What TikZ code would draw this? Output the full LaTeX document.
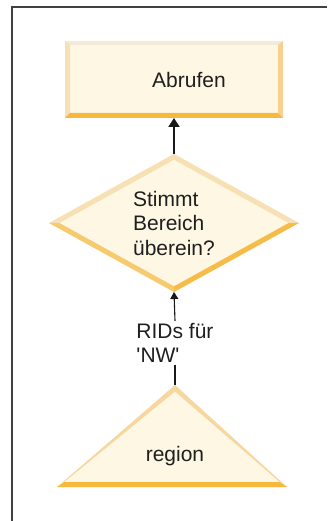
\documentclass[tikz,border=0pt]{standalone}
\usepackage{fontspec}
\setmainfont{Liberation Sans}
\usetikzlibrary{arrows.meta,positioning,shapes.geometric,calc}
\definecolor{boxfill}{HTML}{FDF7E4}
\definecolor{rimlight}{HTML}{F6E0B4}
\definecolor{rimtop}{HTML}{F4EAD8}
\definecolor{rimside}{HTML}{F6D192}
\definecolor{rimmid}{HTML}{F6CA6E}
\definecolor{rimdark}{HTML}{F6B93E}
\definecolor{framegray}{HTML}{404040}
\begin{document}
\begin{tikzpicture}[
      x=1pt, y=-1pt,
      every node/.append style={font=\fontsize{21}{24.5}\selectfont, text=black!88},
      box/.style={rectangle, fill=boxfill, minimum width=218pt, minimum height=77pt,
        inner sep=0pt, outer sep=0pt},
      decide/.style={diamond, aspect=1.8, fill=boxfill, minimum width=250pt,
        minimum height=138pt, inner sep=0pt, outer sep=0pt, align=left},
      tag/.style={align=left, inner sep=2pt},
      flow/.style={-{Triangle[width=11pt, length=9pt]}, line width=2pt, black!90},
      feed/.style={-{Triangle[width=8pt, length=7pt]}, line width=1.1pt, black!90}
    ]
      \useasboundingbox (0,0) rectangle (327,521);

      % frame
      \draw[framegray, line width=2pt] (12,521) -- (12,6.7) -- (327,6.7);

      \node[box] (fetch) at (174,79.5) {\hspace*{30pt}Abrufen};
      \node[decide] (match) at (174,223) {Stimmt\\Bereich\\überein?};
      \node[tag] (rids) at (175,343) {RIDs für\\\textquotesingle NW\textquotesingle};

      % rims of the box
      \fill[rimtop] (fetch.north west) -- (fetch.north east)
        -- ([shift={(-5,4)}]fetch.north east) -- ([shift={(5,4)}]fetch.north west) -- cycle;
      \fill[rimlight] (fetch.north west) -- ([shift={(5,4)}]fetch.north west)
        -- ([shift={(5,-5)}]fetch.south west) -- (fetch.south west) -- cycle;
      \fill[rimside] (fetch.north east) -- ([shift={(-5,4)}]fetch.north east)
        -- ([shift={(-5,-5)}]fetch.south east) -- (fetch.south east) -- cycle;
      \fill[rimdark] (fetch.south west) -- ([shift={(5,-5)}]fetch.south west)
        -- ([shift={(-5,-5)}]fetch.south east) -- (fetch.south east) -- cycle;

      % rims of the diamond
      \fill[rimlight] (match.west) -- (match.north) -- (match.east)
        -- ([xshift=-10.3pt]match.east) -- ([shift={(0,5.7)}]match.north)
        -- ([xshift=10.3pt]match.west) -- cycle;
      \fill[rimmid] (match.west) -- (match.south)
        -- ([shift={(0,-5.7)}]match.south) -- ([xshift=10.3pt]match.west) -- cycle;
      \fill[rimdark!80!rimmid] (match.east) -- (match.south)
        -- ([shift={(0,-5.7)}]match.south) -- ([xshift=-10.3pt]match.east) -- cycle;

      % region triangle
      \coordinate (tritop) at (175,385);
      \coordinate (trileft) at (57,487);
      \coordinate (triright) at (287,487);
      \fill[rimside!60!rimlight] (tritop) -- (triright) -- (trileft) -- cycle;
      \fill[boxfill] ([shift={(0,6.7)}]tritop) -- ([shift={(-7.5,-5)}]triright)
        -- ([shift={(7.5,-5)}]trileft) -- cycle;
      \fill[rimdark] (trileft) -- (triright) -- ([shift={(-7.5,-5)}]triright)
        -- ([shift={(7.5,-5)}]trileft) -- cycle;
      \node[anchor=base, inner sep=0pt] (region) at (175,461) {region};

      % edges
      \draw[flow] (match.north) -- (fetch.south);
      \draw[feed] (rids.north) -- (match.south);
      \draw[line width=1.1pt, black!90] (rids.south) -- (tritop);
    \end{tikzpicture}
\end{document}
